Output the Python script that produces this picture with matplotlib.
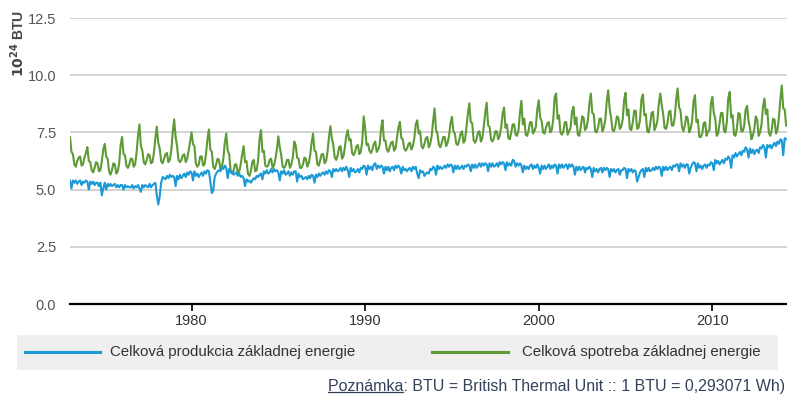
import numpy as np
import matplotlib
matplotlib.use("Agg")
import matplotlib.pyplot as plt
from matplotlib.patches import Rectangle
from matplotlib.lines import Line2D

plt.rcParams["font.family"] = ["Liberation Sans", "DejaVu Sans"]

# mesačné hodnoty od januára 1973 (jeden riadok = jeden rok)
spotreba = [
    7.30, 6.65, 6.55, 6.10, 6.00, 6.25, 6.40, 6.45, 6.05, 6.10, 6.40, 6.60,
    6.86, 6.25, 6.20, 5.85, 5.75, 5.95, 6.20, 6.15, 5.80, 5.85, 6.25, 6.75,
    7.00, 6.45, 6.35, 5.80, 5.65, 5.85, 6.15, 6.10, 5.70, 5.80, 6.15, 6.95,
    7.30, 6.55, 6.50, 6.05, 5.95, 6.10, 6.35, 6.35, 6.00, 6.10, 6.60, 7.35,
    7.85, 6.90, 6.70, 6.20, 6.10, 6.30, 6.55, 6.50, 6.15, 6.20, 6.60, 7.25,
    7.75, 7.05, 6.80, 6.25, 6.15, 6.35, 6.55, 6.60, 6.20, 6.30, 6.70, 7.50,
    8.07, 7.30, 6.90, 6.30, 6.20, 6.30, 6.50, 6.55, 6.20, 6.35, 6.70, 7.10,
    7.50, 7.00, 6.90, 6.15, 6.00, 6.10, 6.45, 6.45, 6.05, 6.10, 6.55, 7.20,
    7.63, 6.75, 6.65, 6.00, 5.90, 6.10, 6.35, 6.30, 5.90, 6.00, 6.35, 7.05,
    7.45, 6.70, 6.55, 5.85, 5.70, 5.80, 6.10, 6.10, 5.70, 5.80, 6.10, 6.55,
    6.90, 6.20, 6.25, 5.70, 5.60, 5.80, 6.20, 6.30, 5.80, 5.85, 6.25, 7.20,
    7.60, 6.65, 6.70, 6.05, 6.00, 6.05, 6.30, 6.35, 5.95, 6.05, 6.35, 6.75,
    7.33, 6.85, 6.50, 6.00, 5.95, 6.05, 6.30, 6.30, 5.95, 6.10, 6.40, 7.10,
    6.94, 6.40, 6.35, 5.95, 5.95, 6.10, 6.40, 6.35, 6.00, 6.15, 6.50, 7.05,
    7.45, 6.70, 6.65, 6.10, 6.05, 6.30, 6.55, 6.55, 6.15, 6.25, 6.65, 7.30,
    7.77, 7.25, 6.95, 6.40, 6.30, 6.50, 6.85, 6.90, 6.35, 6.45, 6.85, 7.35,
    7.60, 7.15, 7.20, 6.60, 6.50, 6.65, 6.90, 6.95, 6.55, 6.65, 7.10, 8.20,
    7.70, 6.95, 7.00, 6.70, 6.60, 6.75, 7.00, 7.10, 6.65, 6.75, 6.95, 7.65,
    8.03, 7.15, 7.15, 6.75, 6.65, 6.85, 7.05, 7.10, 6.70, 6.80, 7.25, 7.70,
    7.96, 7.25, 7.20, 6.80, 6.70, 6.80, 7.00, 7.05, 6.75, 6.90, 7.25, 7.85,
    8.03, 7.45, 7.55, 6.90, 6.80, 7.00, 7.25, 7.30, 6.85, 7.00, 7.35, 8.00,
    8.55, 7.60, 7.45, 6.95, 6.85, 7.05, 7.30, 7.30, 6.90, 7.05, 7.35, 7.90,
    8.18, 7.55, 7.45, 7.00, 6.95, 7.15, 7.45, 7.55, 7.05, 7.15, 7.70, 8.30,
    8.77, 7.95, 7.90, 7.15, 7.05, 7.20, 7.50, 7.55, 7.10, 7.25, 7.75, 8.35,
    8.80, 7.80, 7.75, 7.20, 7.10, 7.25, 7.55, 7.55, 7.20, 7.35, 7.70, 8.30,
    8.59, 7.70, 7.85, 7.25, 7.20, 7.50, 7.85, 7.85, 7.40, 7.35, 7.60, 8.35,
    8.88, 7.85, 8.10, 7.40, 7.35, 7.60, 7.95, 7.95, 7.45, 7.55, 7.75, 8.50,
    8.90, 8.15, 8.00, 7.50, 7.45, 7.70, 7.90, 7.95, 7.50, 7.60, 8.05, 9.05,
    9.20, 8.10, 8.25, 7.50, 7.40, 7.55, 7.95, 7.95, 7.40, 7.55, 7.70, 8.40,
    8.62, 7.85, 8.15, 7.40, 7.35, 7.70, 8.20, 8.15, 7.60, 7.70, 8.05, 8.75,
    9.20, 8.35, 8.30, 7.55, 7.50, 7.70, 8.10, 8.10, 7.55, 7.70, 8.05, 8.85,
    9.34, 8.55, 8.15, 7.60, 7.55, 7.80, 8.20, 8.15, 7.65, 7.75, 8.05, 8.90,
    9.23, 8.25, 8.50, 7.65, 7.60, 7.95, 8.45, 8.45, 7.65, 7.70, 8.05, 8.95,
    9.16, 8.25, 8.30, 7.55, 7.50, 7.85, 8.35, 8.40, 7.60, 7.75, 8.00, 8.75,
    9.20, 8.70, 8.30, 7.70, 7.65, 7.90, 8.40, 8.45, 7.80, 7.80, 8.15, 8.95,
    9.42, 8.60, 8.45, 7.75, 7.55, 7.80, 8.20, 8.10, 7.50, 7.65, 8.00, 8.85,
    9.13, 7.95, 8.05, 7.30, 7.30, 7.45, 7.90, 7.95, 7.35, 7.55, 7.60, 8.75,
    9.05, 8.35, 8.10, 7.35, 7.45, 7.90, 8.35, 8.35, 7.60, 7.50, 7.95, 9.00,
    9.27, 8.15, 8.25, 7.40, 7.35, 7.70, 8.35, 8.30, 7.55, 7.55, 7.80, 8.50,
    8.66, 8.00, 7.70, 7.20, 7.35, 7.65, 8.20, 8.05, 7.35, 7.50, 7.85, 8.60,
    8.98, 8.30, 8.50, 7.50, 7.35, 7.60, 8.10, 8.05, 7.45, 7.60, 8.15, 8.95,
    9.55, 8.55, 8.50, 7.80,
]

produkcia = [
    5.40, 5.05, 5.40, 5.30, 5.40, 5.25, 5.35, 5.40, 5.20, 5.35, 5.30, 5.40,
    5.35, 5.00, 5.35, 5.25, 5.35, 5.20, 5.30, 5.30, 5.15, 5.30, 4.75, 5.05,
    5.30, 5.00, 5.25, 5.15, 5.25, 5.15, 5.20, 5.25, 5.10, 5.20, 5.10, 5.20,
    5.20, 5.00, 5.20, 5.10, 5.15, 5.10, 5.10, 5.20, 5.05, 5.15, 5.10, 5.20,
    5.05, 4.90, 5.20, 5.10, 5.20, 5.15, 5.10, 5.25, 5.10, 5.20, 5.25, 5.30,
    4.75, 4.35, 4.70, 5.30, 5.55, 5.50, 5.45, 5.60, 5.50, 5.65, 5.55, 5.60,
    5.55, 5.15, 5.60, 5.45, 5.65, 5.50, 5.60, 5.70, 5.55, 5.75, 5.65, 5.80,
    5.75, 5.40, 5.80, 5.60, 5.70, 5.55, 5.65, 5.75, 5.60, 5.80, 5.70, 5.85,
    5.80, 5.35, 4.85, 4.95, 5.55, 5.70, 5.80, 5.85, 5.80, 6.00, 5.90, 6.05,
    5.95, 5.50, 5.90, 5.75, 5.80, 5.65, 5.70, 5.75, 5.60, 5.70, 5.55, 5.60,
    5.50, 5.15, 5.45, 5.35, 5.40, 5.30, 5.40, 5.50, 5.45, 5.60, 5.55, 5.65,
    5.70, 5.45, 5.80, 5.70, 5.85, 5.70, 5.75, 5.90, 5.75, 5.90, 5.80, 5.85,
    5.75, 5.40, 5.80, 5.70, 5.85, 5.65, 5.70, 5.80, 5.60, 5.75, 5.65, 5.80,
    5.80, 5.35, 5.70, 5.55, 5.60, 5.45, 5.50, 5.55, 5.45, 5.60, 5.50, 5.65,
    5.60, 5.30, 5.65, 5.55, 5.70, 5.60, 5.70, 5.75, 5.65, 5.80, 5.70, 5.85,
    5.80, 5.55, 5.90, 5.80, 5.90, 5.80, 5.85, 5.95, 5.80, 5.95, 5.85, 6.00,
    5.85, 5.55, 5.95, 5.80, 5.90, 5.75, 5.80, 5.90, 5.75, 5.95, 5.90, 6.05,
    6.00, 5.65, 6.05, 5.90, 6.00, 5.85, 6.10, 6.15, 5.90, 6.05, 5.95, 6.05,
    6.00, 5.70, 6.00, 5.85, 6.00, 5.80, 5.95, 6.00, 5.85, 6.05, 5.95, 6.05,
    5.95, 5.70, 6.00, 5.85, 5.90, 5.80, 5.90, 5.95, 5.80, 6.00, 5.90, 6.00,
    5.70, 5.50, 5.85, 5.75, 5.80, 5.60, 5.70, 5.75, 5.70, 5.90, 5.85, 6.00,
    5.95, 5.65, 6.05, 5.90, 6.00, 5.90, 5.95, 6.05, 5.95, 6.10, 6.00, 6.10,
    6.05, 5.75, 6.05, 5.90, 6.05, 5.90, 5.95, 6.05, 5.90, 6.05, 6.00, 6.10,
    6.05, 5.80, 6.10, 5.95, 6.10, 5.95, 6.05, 6.15, 6.00, 6.15, 6.05, 6.15,
    6.10, 5.80, 6.15, 6.00, 6.15, 6.00, 6.05, 6.15, 6.00, 6.20, 6.10, 6.20,
    6.15, 5.85, 6.20, 6.05, 6.15, 6.05, 6.30, 6.25, 6.00, 6.15, 6.05, 6.15,
    6.05, 5.75, 6.05, 5.90, 6.00, 5.90, 6.05, 6.10, 5.90, 6.05, 5.95, 6.10,
    5.95, 5.70, 6.05, 5.90, 6.05, 5.90, 6.00, 6.10, 5.90, 6.05, 5.95, 6.10,
    6.05, 5.70, 6.10, 5.95, 6.10, 5.95, 6.05, 6.10, 5.90, 6.10, 6.00, 6.10,
    6.00, 5.65, 6.00, 5.85, 6.00, 5.85, 5.95, 6.00, 5.75, 5.95, 5.90, 6.00,
    5.90, 5.55, 5.95, 5.80, 5.90, 5.75, 5.90, 5.95, 5.75, 5.95, 5.85, 5.95,
    5.90, 5.55, 5.90, 5.80, 5.90, 5.75, 5.85, 5.90, 5.65, 5.85, 5.85, 5.95,
    5.90, 5.50, 5.90, 5.80, 5.90, 5.75, 5.85, 5.80, 5.35, 5.55, 5.75, 5.85,
    5.90, 5.55, 5.95, 5.80, 5.95, 5.80, 5.85, 5.95, 5.85, 6.00, 5.90, 6.00,
    5.95, 5.60, 6.00, 5.85, 6.00, 5.85, 5.95, 6.00, 5.85, 6.05, 6.00, 6.10,
    6.10, 5.80, 6.15, 6.00, 6.10, 5.95, 6.10, 6.10, 5.70, 5.95, 6.10, 6.20,
    6.15, 5.80, 6.15, 5.95, 6.05, 5.90, 6.05, 6.10, 5.95, 6.10, 6.05, 6.20,
    6.15, 5.85, 6.30, 6.15, 6.25, 6.10, 6.20, 6.30, 6.15, 6.35, 6.30, 6.45,
    6.35, 5.95, 6.50, 6.40, 6.60, 6.45, 6.55, 6.65, 6.50, 6.70, 6.65, 6.85,
    6.75, 6.40, 6.80, 6.60, 6.75, 6.55, 6.70, 6.75, 6.60, 6.85, 6.80, 6.95,
    6.85, 6.40, 6.95, 6.85, 6.95, 6.80, 6.95, 7.05, 6.90, 7.10, 7.00, 7.20,
    7.15, 6.50, 7.25, 7.20,
]

prvy_rok = 1973
nazov_prod = "Celková produkcia základnej energie"
nazov_spotr = "Celková spotreba základnej energie"
y_ticks = [0.0, 2.5, 5.0, 7.5, 10.0, 12.5]
x_ticks = [1980, 1990, 2000, 2010]

modra = "#1b9ad6"
zelena = "#5e9a35"

cas = prvy_rok + np.arange(len(spotreba)) / 12.0

W, H = 787, 395
fig = plt.figure(figsize=(W / 100, H / 100), dpi=100)
ax = fig.add_axes([70 / W, 1 - 304 / H, 717 / W, 286 / H])

for y in y_ticks[1:]:
    ax.axhline(y, color="#cccccc", lw=1.2, zorder=0)

ax.plot(cas, spotreba, color=zelena, lw=1.5, zorder=3)
ax.plot(cas, produkcia, color=modra, lw=1.5, zorder=3)

ax.set_xlim(1973.0, 2014.3)
ax.set_ylim(0, 12.5)
ax.set_yticks(y_ticks)
ax.set_yticklabels([f"{v:.1f}" for v in y_ticks])
ax.set_xticks(x_ticks)
for s in ["top", "right", "left"]:
    ax.spines[s].set_visible(False)
ax.spines["bottom"].set_linewidth(1.6)
ax.spines["bottom"].set_zorder(4)
ax.tick_params(axis="y", length=0, pad=10, labelsize=10.5, labelcolor="#555555")
ax.tick_params(axis="x", length=5, width=1.2, pad=2, labelsize=10.5, labelcolor="#333333")

fig.text(18 / W, 1 - 44 / H, r"$\mathbf{10^{24}}$ BTU", rotation=90,
         ha="center", va="center", fontsize=10, fontweight="bold", color="#444444")

# legenda - sivy pas
fig.patches.append(Rectangle((17 / W, 1 - 370 / H), 761 / W, 35 / H,
                             transform=fig.transFigure, facecolor="#efefef",
                             edgecolor="none", zorder=0))
ly = 1 - 352 / H
fig.lines.append(Line2D([25 / W, 100 / W], [ly, ly], transform=fig.transFigure,
                        color=modra, lw=2.2))
fig.text(110 / W, ly, nazov_prod, ha="left", va="center", fontsize=10.8, color="#333333")
fig.lines.append(Line2D([432 / W, 508 / W], [ly, ly], transform=fig.transFigure,
                        color=zelena, lw=2.2))
fig.text(522 / W, ly, nazov_spotr, ha="left", va="center", fontsize=10.8, color="#333333")

# poznamka s podciarknutim
ny = 1 - 386 / H
farba_pozn = "#34415a"
t = fig.text(785 / W, ny, "Poznámka: BTU = British Thermal Unit :: 1 BTU = 0,293071 Wh)",
             ha="right", va="center", fontsize=11.5, color=farba_pozn)
r = fig.canvas.get_renderer()
bb = t.get_window_extent(renderer=r)
tmp = fig.text(bb.x0 / W, ny, "Poznámka", ha="left", va="center", fontsize=11.5)
bb2 = tmp.get_window_extent(renderer=r)
tmp.remove()
uy = (bb.y0 + 2) / H
fig.lines.append(Line2D([bb2.x0 / W, bb2.x1 / W], [uy, uy], transform=fig.transFigure,
                        color=farba_pozn, lw=0.9))

fig.savefig("out.png", dpi=100)
